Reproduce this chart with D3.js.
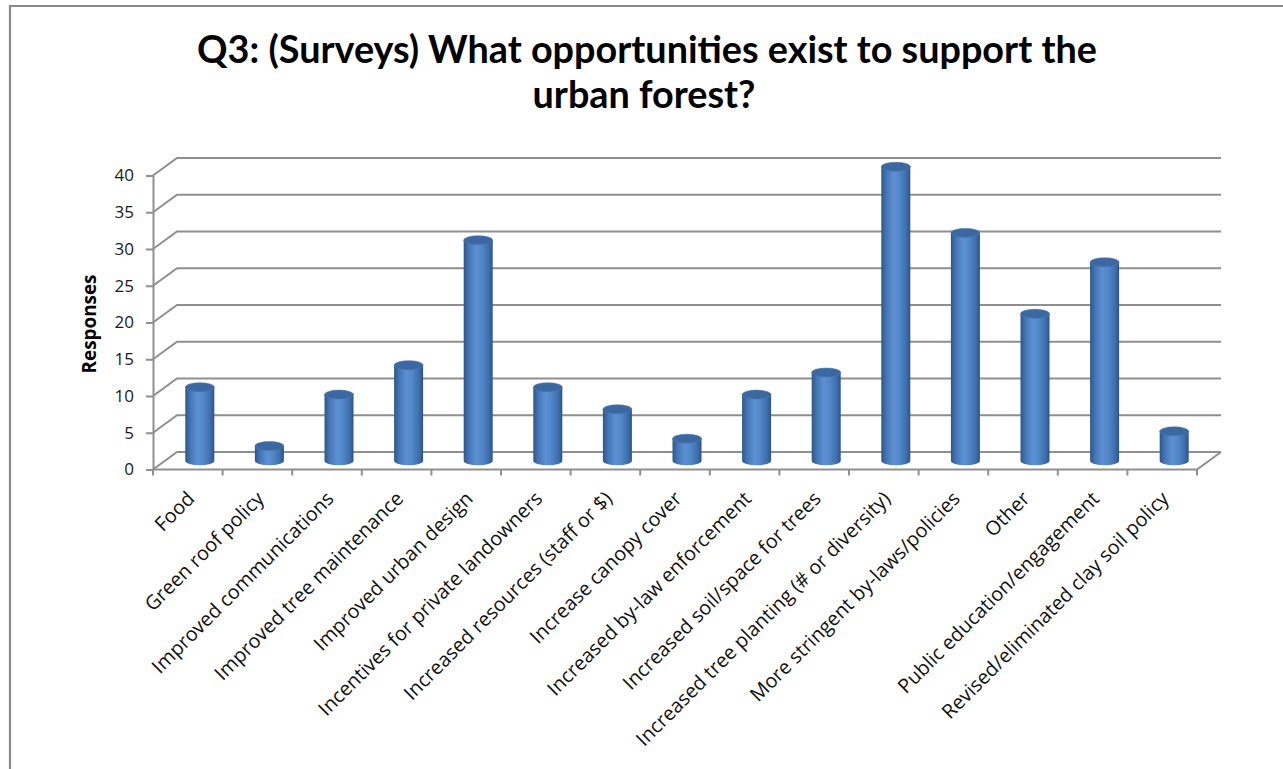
<!DOCTYPE html>
<html>
<head>
<meta charset="utf-8">
<script src="https://cdn.jsdelivr.net/npm/d3@7"></script>
<style>
  html, body { margin: 0; padding: 0; background: #ffffff; }
  svg { display: block; }
</style>
</head>
<body>
<svg id="chart" width="1283" height="769"></svg>
<script>
// Survey answers: categories and number of responses
const categories = [
  "Food",
  "Green roof policy",
  "Improved communications",
  "Improved tree maintenance",
  "Improved urban design",
  "Incentives for private landowners",
  "Increased resources (staff or $)",
  "Increase canopy cover",
  "Increased by-law enforcement",
  "Increased soil/space for trees",
  "Increased tree planting (# or diversity)",
  "More stringent by-laws/policies",
  "Other",
  "Public education/engagement",
  "Revised/eliminated clay soil policy"
];
const responses = [10, 2, 9, 13, 30, 10, 7, 3, 9, 12, 40, 31, 20, 27, 4];
const yTicks = [0, 5, 10, 15, 20, 25, 30, 35, 40];
const titleLines = ["Q3: (Surveys) What opportunities exist to support the", "urban forest?"];
const yAxisTitle = "Responses";

const svg = d3.select("#chart");
const TITLE_FONT = "Lato, 'Open Sans', sans-serif";
const FONT = "'Open Sans', 'Noto Sans', sans-serif";

// Plot geometry (front plane) and depth offset of the 3-D box
const plot = { left: 153, right: 1197, top: 175.5, bottom: 469.5 };
const depth = { dx: 24, dy: -17.5 };
const gridColor = "#8f8f8f";

const x = d3.scaleBand().domain(categories).range([plot.left, plot.right]).padding(0);
const y = d3.scaleLinear().domain([0, 40]).range([plot.bottom, plot.top]);

// outer frame (top and left edges visible)
svg.append("path")
  .attr("d", `M10,769 L10,6 L1283,6`)
  .attr("fill", "none").attr("stroke", "#8a8a8a").attr("stroke-width", 2.2);

// shrink/grow a text's font size so it spans a given length
function fitText(sel, base, target) {
  sel.style("font-size", base + "px");
  const len = sel.node().getComputedTextLength();
  sel.style("font-size", (base * target / len).toFixed(2) + "px");
}

// title
const title = svg.append("g").attr("font-family", TITLE_FONT).attr("font-weight", 700).attr("fill", "#000");
const t1 = title.append("text").attr("x", 647).attr("y", 63).attr("text-anchor", "middle").text(titleLines[0]);
fitText(t1, 30, 900);
const titleSize = parseFloat(t1.style("font-size"));
title.append("text").attr("x", 644).attr("y", 108).attr("text-anchor", "middle")
  .style("font-size", titleSize + "px").text(titleLines[1]);

// back wall gridlines and side wall diagonals
const grid = svg.append("g").attr("stroke", gridColor).attr("stroke-width", 2).attr("fill", "none");
yTicks.forEach(t => {
  const yf = y(t), yb = y(t) + depth.dy;
  grid.append("path")
    .attr("d", `M${plot.left},${yf} L${plot.left + depth.dx},${yb} L${plot.right + depth.dx},${yb}`);
});
// floor: front edge and right edge
grid.append("path")
  .attr("d", `M${plot.left},${y(0)} L${plot.right},${y(0)} L${plot.right + depth.dx},${y(0) + depth.dy}`);

// x tick marks at category boundaries
const xBounds = categories.map(c => x(c)).concat([plot.right]);
grid.selectAll("line.xt").data(xBounds).join("line")
  .attr("x1", d => d).attr("x2", d => d)
  .attr("y1", y(0)).attr("y2", y(0) + 6);

// y axis
const yAxis = svg.append("g").attr("transform", `translate(${plot.left},0)`)
  .call(d3.axisLeft(y).tickValues(yTicks).tickSize(7).tickPadding(12).tickSizeOuter(0));
yAxis.select(".domain").attr("stroke", gridColor).attr("stroke-width", 2);
yAxis.selectAll(".tick line").attr("stroke", gridColor).attr("stroke-width", 2);
yAxis.selectAll(".tick text").attr("font-family", FONT).style("font-size", "17px").attr("fill", "#1a1a1a");

// y axis title
const yt = svg.append("text")
  .attr("transform", `translate(96,324) rotate(-90)`)
  .attr("text-anchor", "middle")
  .attr("font-family", FONT).attr("font-weight", 700).attr("fill", "#000")
  .text(yAxisTitle);
fitText(yt, 15, 99);

// cylinder shading
const defs = svg.append("defs");
const grad = defs.append("linearGradient").attr("id", "cyl").attr("x1", "0%").attr("x2", "100%").attr("y1", "0%").attr("y2", "0%");
[["0%", "#2d5789"], ["18%", "#4576b6"], ["42%", "#5c90d3"], ["62%", "#5287c9"], ["86%", "#3f6eac"], ["100%", "#2c5586"]]
  .forEach(([o, c]) => grad.append("stop").attr("offset", o).attr("stop-color", c));

// cylinders, standing at half depth
const rx = 14.5, ry = 4.5;
const bars = svg.append("g");
categories.forEach((c, i) => {
  const cx = x(c) + x.bandwidth() / 2 + depth.dx / 2;
  const yb = y(0) + depth.dy / 2;
  const yt2 = y(responses[i]) + depth.dy / 2;
  const l = cx - rx, r = cx + rx;
  bars.append("path")
    .attr("d", `M${l},${yt2} L${l},${yb} A${rx},${ry} 0 0 0 ${r},${yb} L${r},${yt2} Z`)
    .attr("fill", "url(#cyl)");
  bars.append("ellipse")
    .attr("cx", cx).attr("cy", yt2).attr("rx", rx).attr("ry", ry)
    .attr("fill", "#3c68a2").attr("stroke", "#4a78b5").attr("stroke-width", 0.6);
});

// category labels, rotated 45 degrees
const lab = svg.append("g").attr("font-family", FONT).attr("fill", "#111");
const labels = lab.selectAll("text").data(categories).join("text")
  .attr("text-anchor", "end")
  .attr("dy", "0.35em")
  .attr("transform", d => `translate(${x(d) + x.bandwidth() / 2 + 3},${495}) rotate(-45)`)
  .text(d => d);
// size labels from the longest one
const longest = labels.filter(d => d === categories[10]);
fitText(longest, 15, 350);
labels.style("font-size", longest.style("font-size"));
</script>
</body>
</html>
